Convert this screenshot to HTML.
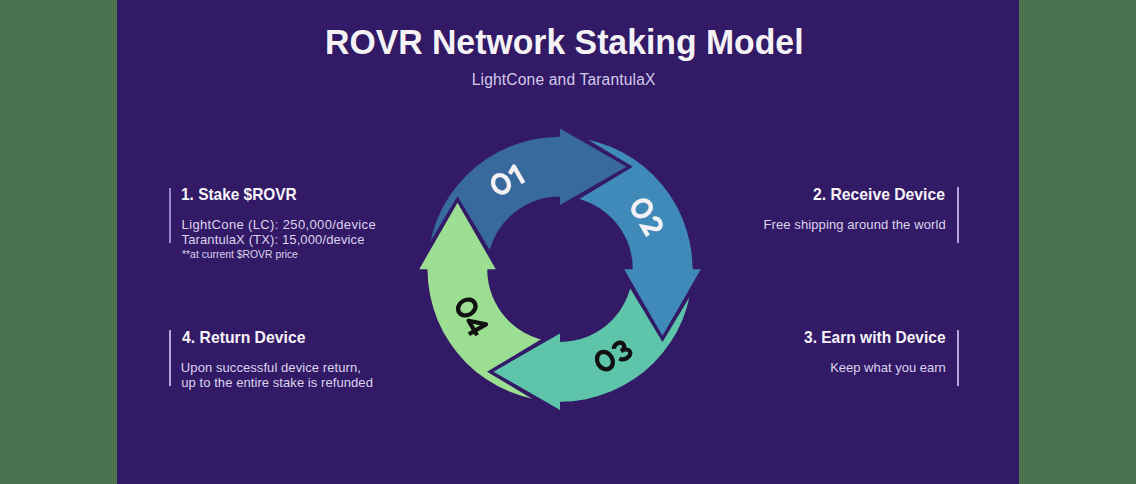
<!DOCTYPE html>
<html><head><meta charset="utf-8">
<style>
html,body{margin:0;padding:0;}
body{width:1136px;height:484px;background:#4a7350;position:relative;overflow:hidden;font-family:"Liberation Sans",sans-serif;}
#panel{position:absolute;left:117px;top:0;width:902px;height:484px;background:#321a66;}
.t{position:absolute;white-space:nowrap;line-height:1;transform-origin:0 0;}
.bar{position:absolute;width:2px;background:#b3a6dd;}
svg{position:absolute;left:0;top:0;}
</style></head><body>
<div id="panel"></div>
<div class="t" style="left:324.75px;top:25.0px;font-size:35.5px;font-weight:bold;transform:scaleX(0.9514);color:#f5f2f5;">ROVR Network Staking Model</div>
<div class="t" style="left:471.71px;top:71.8px;font-size:15.6px;font-weight:normal;letter-spacing:0.16px;color:#d3cbea;">LightCone and TarantulaX</div>
<div class="t" style="left:180.92px;top:186.7px;font-size:16.6px;font-weight:bold;transform:scaleX(0.9295);color:#f6f3f7;">1. Stake $ROVR</div>
<div class="t" style="left:181.57px;top:217.6px;font-size:13px;font-weight:normal;letter-spacing:0.362px;color:#dcd4ee;">LightCone (LC): 250,000/device</div>
<div class="t" style="left:181.51px;top:233.0px;font-size:13px;font-weight:normal;letter-spacing:0.127px;color:#dcd4ee;">TarantulaX (TX): 15,000/device</div>
<div class="t" style="left:182.06px;top:250.0px;font-size:10.4px;font-weight:normal;letter-spacing:-0.01px;color:#dcd4ee;">**at current $ROVR price</div>
<div class="t" style="left:181.75px;top:330.2px;font-size:16.6px;font-weight:bold;transform:scaleX(0.949);color:#f6f3f7;">4. Return Device</div>
<div class="t" style="left:180.86px;top:360.8px;font-size:13px;font-weight:normal;letter-spacing:0.076px;color:#dcd4ee;">Upon successful device return,</div>
<div class="t" style="left:181.25px;top:375.6px;font-size:13px;font-weight:normal;letter-spacing:0.069px;color:#dcd4ee;">up to the entire stake is refunded</div>
<div class="t" style="left:813.42px;top:186.7px;font-size:16.6px;font-weight:bold;transform:scaleX(0.947);color:#f6f3f7;">2. Receive Device</div>
<div class="t" style="left:763.5px;top:217.6px;font-size:13px;font-weight:normal;letter-spacing:0.1px;color:#dcd4ee;">Free shipping around the world</div>
<div class="t" style="left:803.75px;top:330.2px;font-size:16.6px;font-weight:bold;transform:scaleX(0.9357);color:#f6f3f7;">3. Earn with Device</div>
<div class="t" style="left:830.15px;top:360.8px;font-size:13px;font-weight:normal;letter-spacing:-0.001px;color:#dcd4ee;">Keep what you earn</div>
<div class="bar" style="left:169px;top:188px;height:55px;background:#9788ca"></div>
<div class="bar" style="left:169px;top:330px;height:56px"></div>
<div class="bar" style="left:957px;top:187px;height:56px"></div>
<div class="bar" style="left:957px;top:330px;height:56px"></div>
<svg width="1136" height="484" viewBox="0 0 1136 484">
<path d="M427.50,269.20 A132.5,132.5 0 0 1 560.00,136.70 L560.00,196.40 A72.8,72.8 0 0 0 487.20,269.20 Z" fill="#386a9e"/>
<path d="M560.00,136.70 A132.5,132.5 0 0 1 692.50,269.20 L632.80,269.20 A72.8,72.8 0 0 0 560.00,196.40 Z" fill="#408aba"/>
<path d="M692.50,269.20 A132.5,132.5 0 0 1 560.00,401.70 L560.00,342.00 A72.8,72.8 0 0 0 632.80,269.20 Z" fill="#5ec4aa"/>
<path d="M560.00,401.70 A132.5,132.5 0 0 1 427.50,269.20 L487.20,269.20 A72.8,72.8 0 0 0 560.00,342.00 Z" fill="#9cde92"/>
<path d="M561.00,123.46 L632.91,166.70 L561.00,209.94 Z" fill="#321a66"/>
<path d="M558.50,136.70 L560.50,136.70 L560.50,196.40 L558.50,196.40 Z" fill="#386a9e"/>
<path d="M560.00,128.40 L626.50,166.70 L560.00,205.00 Z" fill="#386a9e"/>
<path d="M705.74,270.20 L662.50,342.11 L619.26,270.20 Z" fill="#321a66"/>
<path d="M692.50,267.70 L692.50,269.70 L632.80,269.70 L632.80,267.70 Z" fill="#408aba"/>
<path d="M700.80,269.20 L662.50,335.70 L624.20,269.20 Z" fill="#408aba"/>
<path d="M559.00,414.94 L487.09,371.70 L559.00,328.46 Z" fill="#321a66"/>
<path d="M561.50,401.70 L559.50,401.70 L559.50,342.00 L561.50,342.00 Z" fill="#5ec4aa"/>
<path d="M560.00,410.00 L493.50,371.70 L560.00,333.40 Z" fill="#5ec4aa"/>
<path d="M414.26,268.20 L457.50,196.29 L500.74,268.20 Z" fill="#321a66"/>
<path d="M427.50,270.70 L427.50,268.70 L487.20,268.70 L487.20,270.70 Z" fill="#9cde92"/>
<path d="M419.20,269.20 L457.50,202.70 L495.80,269.20 Z" fill="#9cde92"/>

<g transform="translate(501.0,183.8) rotate(-30)" fill="none" stroke="#f4f1f4" stroke-width="4.3"><ellipse cx="0" cy="0" rx="7.5" ry="9.1"/><path d="M12.6,-4.2 L19.8,-8.4 L19.8,10.6" stroke-linejoin="round"/></g>
<g transform="translate(642.05,208.4) rotate(60)" fill="none" stroke="#f4f1f4" stroke-width="4.3"><ellipse cx="0" cy="0" rx="7.5" ry="9.1"/><path d="M14.8,-4.4 C14.8,-7.4 17.3,-8.9 20.3,-8.9 C23.4,-8.9 25.6,-6.8 25.6,-4.1 C25.6,-1.7 24,0 21.8,1.9 L16.2,8.6 L26.8,8.6" stroke-linejoin="miter"/></g>
<g transform="translate(604.9,360.6) rotate(-30)" fill="none" stroke="#111111" stroke-width="4.3"><ellipse cx="0" cy="0" rx="7.5" ry="9.1"/><path d="M13.6,-5.6 C14.6,-7.6 16.8,-8.6 19.4,-8.6 C22.2,-8.6 24.2,-6.9 24.2,-4.5 C24.2,-2 22.3,-0.2 18.6,-0.2 C23.2,-0.2 26.2,1.8 26.2,4.6 C26.2,7.2 23.5,8.7 20.2,8.7 C17.3,8.7 14.8,7.6 13.6,5.4"/></g>
<g transform="translate(466.8,307.5) rotate(60)" fill="none" stroke="#111111" stroke-width="4.3"><ellipse cx="0" cy="0" rx="7.5" ry="9.1"/><path d="M24.2,11.6 L24.2,-8.2 L12.4,5.0 L29.2,5.0" stroke-linejoin="round"/></g>
</svg>
</body></html>
